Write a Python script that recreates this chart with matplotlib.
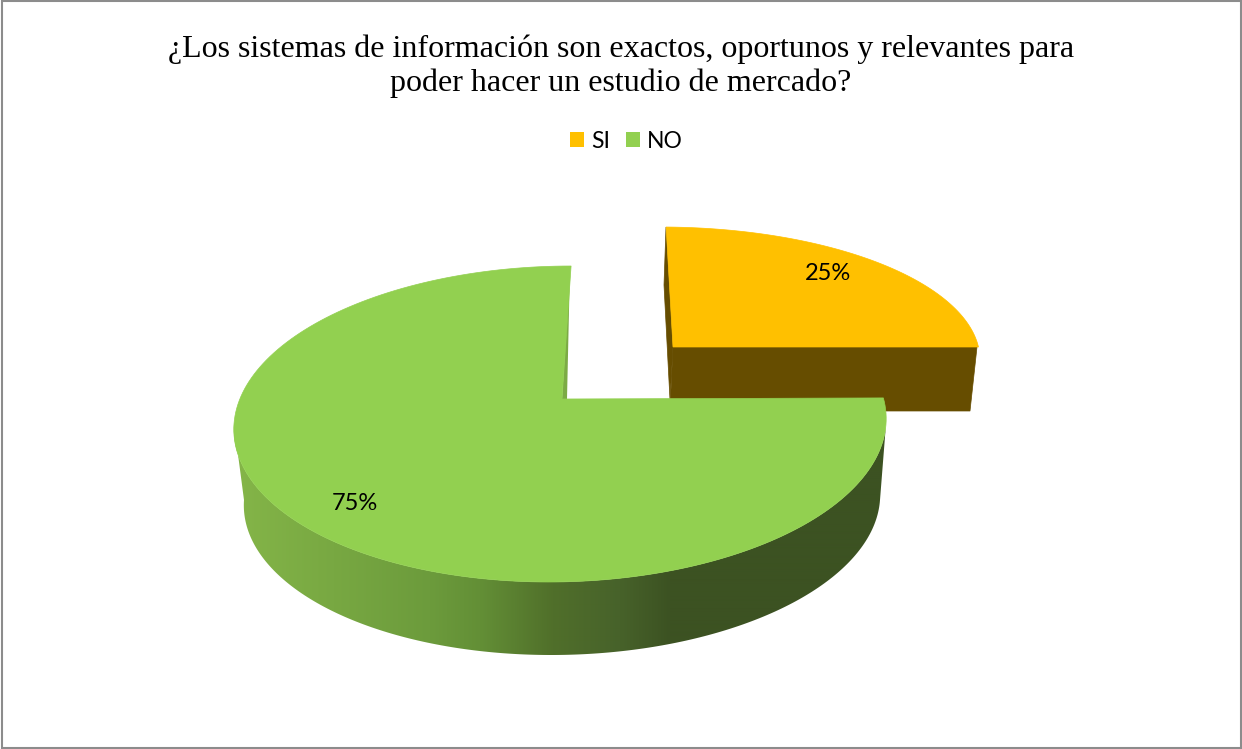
import numpy as np
import matplotlib
matplotlib.use('Agg')
import matplotlib.pyplot as plt
from matplotlib.colors import to_rgb
from matplotlib.patches import Patch, Polygon, Rectangle

title = '¿Los sistemas de información son exactos, oportunos y relevantes para\npoder hacer un estudio de mercado?'
categories = ['SI', 'NO']
values = [25, 75]
labels = ['25%', '75%']
colors = ['#ffc000', '#92d050']

FULL_TURN = 360
SHEAR = -0.07


def ellipse(cx, cy, rx, ry, start, stop, shear=0.0, n=200):
    t = np.radians(np.linspace(start, stop, n))
    return np.column_stack([cx + rx * np.cos(t) + shear * ry * np.sin(t), cy + ry * np.sin(t)])


def slice_top(ax, value, apex, cx, cy, rx, ry, start, stretch, color, shear=0.0):
    # stretch: the 3d view widens or narrows the slice angle on screen
    sweep = value / 100 * FULL_TURN * stretch
    arc = ellipse(cx, cy, rx, ry, start, start + sweep, shear)
    pts = np.vstack([[apex], arc])
    ax.add_patch(Polygon(pts, closed=True, fc=color, ec=color, lw=0.5, zorder=5))
    return arc


fig = plt.figure(figsize=(12.42, 7.49), dpi=100)
ax = fig.add_axes([0, 0, 1, 1])
ax.set_xlim(0, 1242)
ax.set_ylim(749, 0)
ax.axis('off')

# SI slice, pulled out of the pie
brown = '#664d00'
ax.add_patch(Polygon([(666, 227), (664, 285), (670, 400), (673, 347)], closed=True, fc=brown, ec=brown, lw=0.5, zorder=1))
ax.add_patch(Polygon([(673, 347), (977, 347), (970, 411), (670, 411)], closed=True, fc=brown, ec=brown, lw=0.5, zorder=1))
slice_top(ax, values[0], (673, 347), 660, 360, 320, 133, -88.9, 0.9255, colors[0])

# NO slice, side wall with the shading from left to right
top_edge = ellipse(560, 424, 326, 158, 0, 180, SHEAR)
bottom_edge = ellipse(562, 500, 318, 155, 180, 0, SHEAR)
wall = Polygon(np.vstack([top_edge, bottom_edge]), closed=True, fc='none', ec='none', transform=ax.transData)
ax.add_patch(wall)
shade_x = [237, 430, 480, 553, 620, 670, 890]
shade_c = np.array([to_rgb(c) for c in ['#84b548', '#6c9b3c', '#638f36', '#506f2a', '#47622a', '#3c5222', '#3c5222']])
xs = np.arange(230, 895)
grad = np.stack([np.interp(xs, shade_x, shade_c[:, i]) for i in range(3)], axis=-1)[np.newaxis, :, :]
im = ax.imshow(grad, extent=(230, 895, 660, 400), aspect='auto', zorder=2, interpolation='bilinear')
im.set_clip_path(wall)
ax.set_xlim(0, 1242)
ax.set_ylim(749, 0)

ax.add_patch(Polygon([(570, 266), (567, 399), (562, 399)], closed=True, fc='#7cab45', ec='none', zorder=4))
slice_top(ax, values[1], (562, 399), 560, 424, 326, 158, -9.5, 1.0352, colors[1], SHEAR)

# data labels
ax.text(827.5, 273, labels[0], fontsize=17, family='Lato', ha='center', va='center', color='black', zorder=6)
ax.text(355, 503, labels[1], fontsize=17, family='Lato', ha='center', va='center', color='black', zorder=6)

ax.text(621, 66, title, fontsize=23, family='Liberation Serif', ha='center', va='center', linespacing=1.19, color='black', zorder=6)

handles = [Patch(fc=c, ec='none') for c in colors]
leg = ax.legend(handles, categories, loc='center', bbox_to_anchor=(626.5 / 1242, 1 - 141 / 749), ncol=2, frameon=False,
                prop={'family': 'Lato', 'size': 16.5}, handlelength=0.61, handleheight=0.61, handletextpad=0.3,
                columnspacing=0.72, borderpad=0, borderaxespad=0)

# chart frame
ax.add_patch(Rectangle((1.5, 0.5), 1239, 747, fc='none', ec='#8c8c8c', lw=1.5, zorder=7))

fig.savefig('out.png', dpi=100)
